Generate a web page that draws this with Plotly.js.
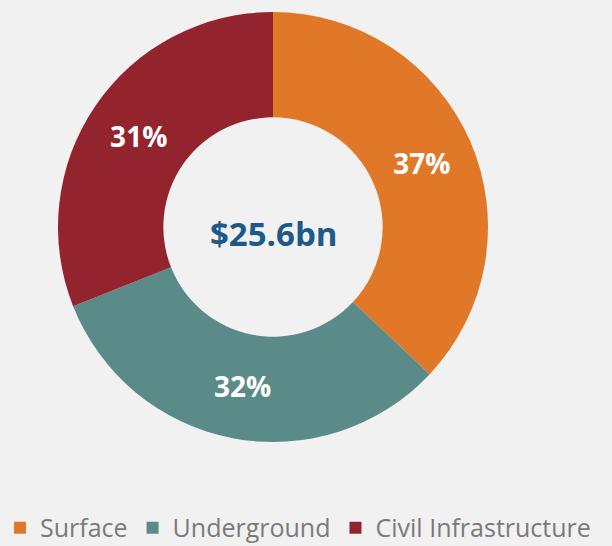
<!DOCTYPE html>
<html>
<head>
<meta charset="utf-8">
<script src="https://cdn.plot.ly/plotly-3.0.1.min.js"></script>
<style>
  html, body { margin: 0; padding: 0; background: #f1f1f1; }
  #chart { width: 612px; height: 546px; }
</style>
</head>
<body>
<div id="chart"></div>
<script>
// segment names, shares (%) and colours
const segments = ["Surface", "Underground", "Civil Infrastructure"];
const shares = [37, 32, 31];
const colours = ["#e07828", "#5b8b88", "#93242d"];
const centreLabel = "$25.6bn";

const data = [{
    type: "pie",
    labels: segments,
    values: shares,
    hole: 0.51,
    sort: false,
    direction: "clockwise",
    rotation: 0,
    marker: {colors: colours, line: {width: 0}},
    texttemplate: "%{value}%",
    textposition: "inside",
    insidetextorientation: "horizontal",
    textfont: {family: "Open Sans", size: 28, color: "#ffffff", weight: "bold"},
    hoverinfo: "label+percent",
    domain: {x: [58 / 612, 488 / 612], y: [104 / 546, 534 / 546]}
}];

const layout = {
    width: 612,
    height: 546,
    // legend sits at the very bottom edge, don't let it squeeze the donut
    margin: {l: 0, r: 0, t: 0, b: 0, autoexpand: false},
    paper_bgcolor: "#f1f1f1",
    plot_bgcolor: "#f1f1f1",
    showlegend: true,
    legend: {
        orientation: "h",
        x: 0.0,
        xanchor: "left",
        y: 0.033,
        yanchor: "middle",
        itemwidth: 30,
        traceorder: "normal",
        font: {family: "Open Sans", size: 25, color: "#7a7a7a"}
    },
    annotations: [{
        text: centreLabel,
        x: 273 / 612, y: (546 - 233) / 546,
        xref: "paper", yref: "paper",
        showarrow: false,
        font: {family: "Open Sans", size: 33, color: "#1d5a8a", weight: "bold"}
    }]
};

Plotly.newPlot("chart", data, layout, {displayModeBar: false});
</script>
</body>
</html>
